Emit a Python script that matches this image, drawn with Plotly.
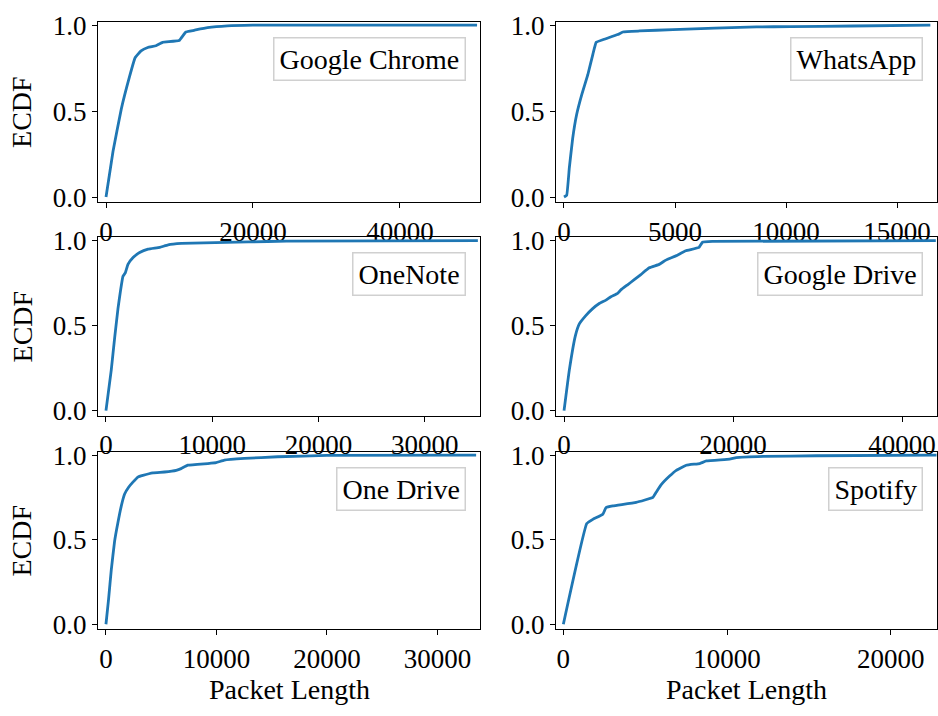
import plotly.graph_objects as go

apps = ["Google Chrome", "WhatsApp", "OneNote", "Google Drive", "One Drive", "Spotify"]

chrome_x = [0, 950, 2070, 3200, 3960, 4770, 5680, 6800, 7700, 9950, 10860, 12000, 13800, 16500, 20000, 50500]
chrome_y = [0, 0.265, 0.51, 0.70, 0.81, 0.85, 0.87, 0.88, 0.90, 0.91, 0.96, 0.97, 0.985, 0.996, 1.0, 1.0]

whatsapp_x = [0, 120, 240, 390, 570, 810, 1070, 1300, 1450, 1750, 2420, 2650, 3400, 4910, 8670, 10200, 13000, 16500]
whatsapp_y = [0, 0.01, 0.17, 0.34, 0.48, 0.60, 0.71, 0.83, 0.90, 0.915, 0.945, 0.96, 0.966, 0.974, 0.99, 0.991, 0.995, 1.0]

onenote_x = [0, 500, 820, 1130, 1380, 1600, 1820, 2070, 2550, 3170, 3960, 5060, 5850, 7100, 13400, 17000, 35000]
onenote_y = [0, 0.24, 0.43, 0.60, 0.71, 0.79, 0.81, 0.86, 0.90, 0.93, 0.95, 0.96, 0.975, 0.983, 0.992, 0.997, 1.0]

gdrive_x = [0, 630, 1340, 1810, 2600, 3390, 4170, 4960, 5550, 6340, 6730, 7520, 8310, 9090, 10080, 11260, 12050, 13230, 14410, 15980, 16380, 17560, 44000]
gdrive_y = [0, 0.24, 0.44, 0.51, 0.56, 0.60, 0.63, 0.65, 0.67, 0.69, 0.71, 0.74, 0.77, 0.80, 0.84, 0.86, 0.885, 0.91, 0.94, 0.96, 0.99, 0.995, 1.0]

onedrive_x = [0, 240, 480, 780, 1080, 1390, 1690, 2050, 2440, 2890, 3340, 4250, 5300, 6360, 6800, 7410, 9220, 9970, 10720, 12530, 15540, 20000, 33500]
onedrive_y = [0, 0.15, 0.32, 0.49, 0.60, 0.70, 0.77, 0.81, 0.84, 0.87, 0.88, 0.895, 0.90, 0.91, 0.92, 0.94, 0.95, 0.955, 0.97, 0.98, 0.99, 0.998, 1.0]

spotify_x = [0, 1430, 1800, 2410, 2610, 3020, 4450, 5470, 5670, 5980, 6490, 6900, 7510, 8330, 8740, 10160, 10570, 12200, 15470, 22800]
spotify_y = [0, 0.595, 0.62, 0.65, 0.69, 0.70, 0.72, 0.75, 0.78, 0.825, 0.876, 0.91, 0.94, 0.95, 0.965, 0.976, 0.985, 0.992, 0.996, 1.0]

series_x = [chrome_x, whatsapp_x, onenote_x, gdrive_x, onedrive_x, spotify_x]
series_y = [chrome_y, whatsapp_y, onenote_y, gdrive_y, onedrive_y, spotify_y]

x_ticks = [
    [0, 20000, 40000],
    [0, 5000, 10000, 15000],
    [0, 10000, 20000, 30000],
    [0, 20000, 40000],
    [0, 10000, 20000, 30000],
    [0, 10000, 20000],
]
x_ranges = [[-1090, 50900], [-360, 16800], [-750, 35200], [-950, 44140], [-720, 33850], [-450, 22830]]
y_ticks = [0.0, 0.5, 1.0]
y_label = "ECDF"
x_label = "Packet Length"

W, H = 938, 716
col_px = [(98, 480), (556, 937)]
row_px = [(11, 197), (233, 417), (454, 637)]

FONT = "Liberation Serif, Times New Roman, serif"
BLUE = "#1f77b4"

fig = go.Figure()
layout = dict(
    width=W, height=H, margin=dict(l=0, r=0, t=0, b=0),
    paper_bgcolor="white", plot_bgcolor="white", showlegend=False,
    font=dict(family=FONT, size=27, color="black"),
)
annotations = []
for i in range(6):
    r, c = divmod(i, 2)
    sfx = "" if i == 0 else str(i + 1)
    fig.add_trace(go.Scatter(
        x=series_x[i], y=series_y[i], mode="lines",
        line=dict(color=BLUE, width=2.8, shape="spline", smoothing=0.3),
        xaxis="x" + sfx, yaxis="y" + sfx, name=apps[i],
    ))
    x0, x1 = col_px[c]
    y0, y1 = row_px[r]
    common = dict(showline=True, linecolor="black", linewidth=1.3, mirror=True,
                  ticks="outside", ticklen=5, tickwidth=1.3, tickcolor="black",
                  showgrid=False, zeroline=False,
                  tickfont=dict(family=FONT, size=27, color="black"))
    layout["xaxis" + sfx] = dict(
        domain=[x0 / W, x1 / W], anchor="y" + sfx, range=x_ranges[i],
        tickvals=x_ticks[i], ticktext=[str(v) for v in x_ticks[i]], **common)
    layout["yaxis" + sfx] = dict(
        domain=[1 - y1 / H, 1 - y0 / H], anchor="x" + sfx, range=[-0.03, 1.02],
        tickvals=y_ticks, ticktext=["%.1f" % v for v in y_ticks], **common)
    annotations.append(dict(
        text=apps[i], xref="x%s domain" % sfx, yref="y%s domain" % sfx,
        x=1, y=1, xanchor="right", yanchor="top", xshift=-14, yshift=-15,
        showarrow=False, font=dict(family=FONT, size=28, color="black"),
        bordercolor="#d0d0d0", borderwidth=1.5, borderpad=5, bgcolor="white"))

for r in range(3):
    y0, y1 = row_px[r]
    annotations.append(dict(
        text=y_label, xref="paper", yref="paper", x=22 / W, y=1 - ((y0 + y1) / 2) / H,
        xanchor="center", yanchor="middle", textangle=-90, showarrow=False,
        font=dict(family=FONT, size=28, color="black")))
for c in range(2):
    x0, x1 = col_px[c]
    annotations.append(dict(
        text=x_label, xref="paper", yref="paper", x=((x0 + x1) / 2) / W, y=1 - 699 / H,
        xanchor="center", yanchor="middle", showarrow=False,
        font=dict(family=FONT, size=28, color="black")))

layout["annotations"] = annotations
fig.update_layout(**layout)
fig.write_html("out.html")
